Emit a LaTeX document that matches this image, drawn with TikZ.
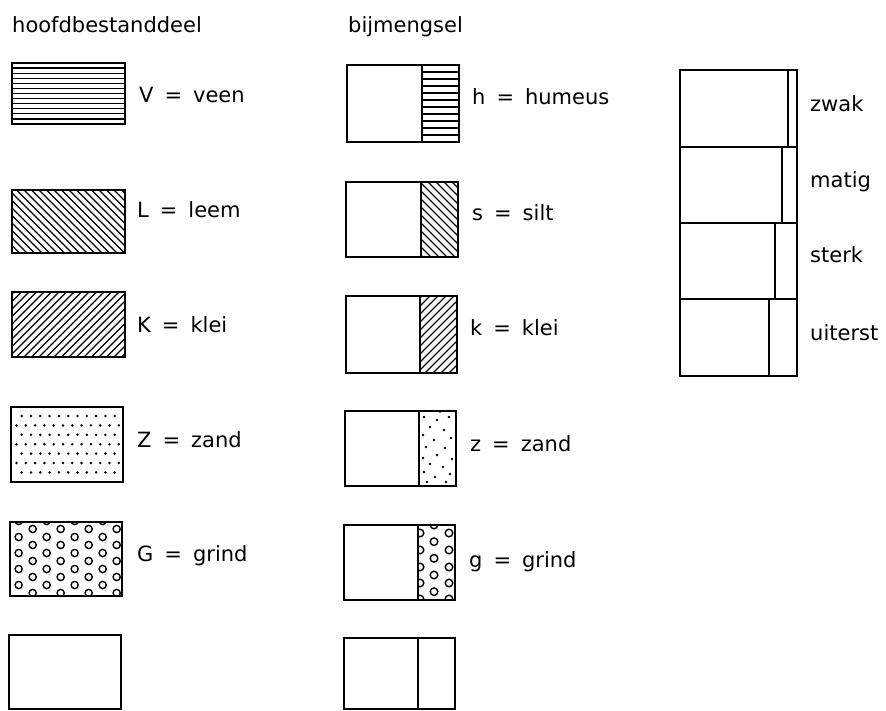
\documentclass[tikz,border=0pt]{standalone}
\usepackage{fontspec}
\setmainfont{DejaVu Sans}
\tikzset{
  box/.style={line width=1.8pt, line join=miter},
  hatch/.style={line width=1.2pt},
  ring/.style={line width=1.4pt},
  lbl/.style={anchor=base west, inner sep=0pt, font=\fontsize{21}{24}\selectfont},
}
\newcommand\lgd[2]{#1\hspace{11pt}=\hspace{11pt}#2}
\begin{document}
\begin{tikzpicture}[x=1pt,y=-1pt]
\useasboundingbox (0,0) rectangle (886,711);
% headings
\node[lbl] (hdrA) at (12,33) {hoofdbestanddeel};
\node[lbl] (hdrB) at (348,33) {bijmengsel};
% ---------------- left column ----------------
% V = veen
\begin{scope}
  \clip (12,63) rectangle (125,124);
  \foreach \k in {1,...,11} \draw[hatch] (12,63+\k*61/12) -- (125,63+\k*61/12);
\end{scope}
\draw[box] (12,63) rectangle (125,124);
\node[lbl] (lV) at (139,103) {\lgd{V}{veen}};
% L = leem
\begin{scope}
  \clip (12,190) rectangle (125,253);
  \foreach \s in {-66,-58.5,...,130} \draw[hatch] (\s,190) -- ++(70,70);
\end{scope}
\draw[box] (12,190) rectangle (125,253);
\node[lbl] (lL) at (137,218) {\lgd{L}{leem}};
% K = klei
\begin{scope}
  \clip (12,292) rectangle (125,357);
  \foreach \s in {14,21.5,...,200} \draw[hatch] (\s,292) -- ++(-72,72);
\end{scope}
\draw[box] (12,292) rectangle (125,357);
\node[lbl] (lK) at (137,332) {\lgd{K}{klei}};
% Z = zand
\foreach \y in {416,434.8,453.6,472.4}
  \foreach \k in {0,...,10} \fill (21.7+\k*9.3,\y) circle (1.4pt);
\foreach \y in {425.4,444.2,463}
  \foreach \k in {0,...,11} \fill (16.5+\k*9.3,\y) circle (1.4pt);
\draw[box] (11,407) rectangle (123,482);
\node[lbl] (lZ) at (137,447) {\lgd{Z}{zand}};
% G = grind
\begin{scope}
  \clip (10,522) rectangle (122,596);
  \foreach \i in {0,2,4,6}
    \foreach \k in {0,...,5} \draw[ring] (18.7+\i*14,521+\k*16) circle (3.6pt);
  \foreach \i in {1,3,5,7}
    \foreach \k in {0,...,4} \draw[ring] (18.7+\i*14,529+\k*16) circle (3.6pt);
\end{scope}
\draw[box] (10,522) rectangle (122,596);
\node[lbl] (lG) at (137,561) {\lgd{G}{grind}};
% empty
\draw[box] (9,635) rectangle (121,709);
% ---------------- middle column ----------------
% h = humeus
\foreach \k in {1,...,10} \draw[hatch] (422,65+\k*77/11) -- (459,65+\k*77/11);
\draw[box] (347,65) rectangle (459,142);
\draw[box] (422,65) -- (422,142);
\node[lbl] (mh) at (472,105) {\lgd{h}{humeus}};
% s = silt
\begin{scope}
  \clip (421,182) rectangle (458,257);
  \foreach \s in {340,348,...,460} \draw[hatch] (\s,182) -- ++(80,80);
\end{scope}
\draw[box] (346,182) rectangle (458,257);
\draw[box] (421,182) -- (421,257);
\node[lbl] (ms) at (472,221) {\lgd{s}{silt}};
% k = klei
\begin{scope}
  \clip (420,296) rectangle (457,373);
  \foreach \s in {422,430,...,545} \draw[hatch] (\s,296) -- ++(-82,82);
\end{scope}
\draw[box] (346,296) rectangle (457,373);
\draw[box] (420,296) -- (420,373);
\node[lbl] (mk) at (470,335) {\lgd{k}{klei}};
% z = zand
\foreach \p in {(424,417),(437,420),(449,417),(430,427),(444,430),(423,435),
                (451,438),(434,440),(426,447),(445,448),(437,455),(423,458),
                (452,459),(430,464),(443,467),(424,472),(450,474),(435,477),
                (446,482),(427,482),(440,411.5)}
  \fill \p circle (1.4pt);
\draw[box] (345,411) rectangle (456,486);
\draw[box] (419,411) -- (419,486);
\node[lbl] (mz) at (470,451) {\lgd{z}{zand}};
% g = grind
\begin{scope}
  \clip (418,525) rectangle (455,600);
  \foreach \x in {420,449}
    \foreach \y in {533,550,567,583,599} \draw[ring] (\x,\y) circle (3.8pt);
  \foreach \y in {525,541.7,558.3,575,591.7} \draw[ring] (434,\y) circle (3.8pt);
\end{scope}
\draw[box] (344,525) rectangle (455,600);
\draw[box] (418,525) -- (418,600);
\node[lbl] (mg) at (469,567) {\lgd{g}{grind}};
% empty
\draw[box] (344,638) rectangle (455,709);
\draw[box] (418,638) -- (418,709);
% ---------------- right column ----------------
\draw[box] (680,70) rectangle (797,376);
\foreach \y in {147,223,299} \draw[box] (680,\y) -- (797,\y);
\draw[box] (788,70) -- (788,147);
\draw[box] (782,147) -- (782,223);
\draw[box] (775,223) -- (775,299);
\draw[box] (769,299) -- (769,376);
\node[lbl] (rA) at (810,112) {zwak};
\node[lbl] (rB) at (810,188) {matig};
\node[lbl] (rC) at (810,263) {sterk};
\node[lbl] (rD) at (810,340) {uiterst};
\end{tikzpicture}
\end{document}
